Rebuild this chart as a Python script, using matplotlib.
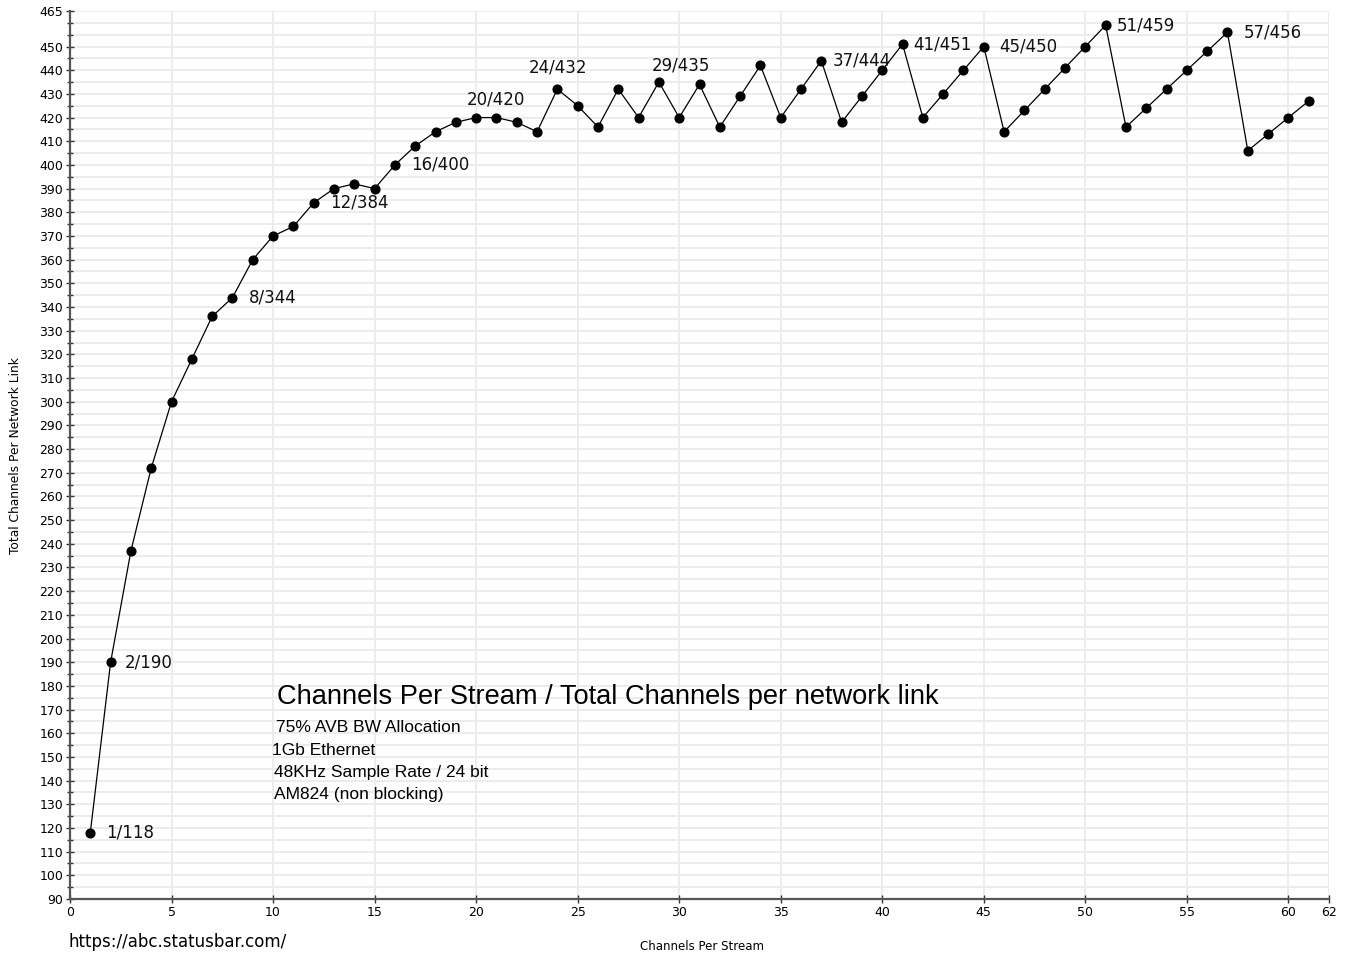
import numpy as np
import matplotlib
matplotlib.use('Agg')
import matplotlib.pyplot as plt

# ---------------------------------------------
# data: channels per stream -> total channels per link
# ---------------------------------------------
streams = list(range(1, 62))
totals = [118, 190, 237, 272, 300, 318, 336, 344, 360, 370,
          374, 384, 390, 392, 390, 400, 408, 414, 418, 420,
          420, 418, 414, 432, 425, 416, 432, 420, 435, 420,
          434, 416, 429, 442, 420, 432, 444, 418, 429, 440,
          451, 420, 430, 440, 450, 414, 423, 432, 441, 450,
          459, 416, 424, 432, 440, 448, 456, 406, 413, 420,
          427]

# labelled points and their label offsets (pixels)
label_x = [1, 2, 8, 12, 16, 20, 24, 29, 37, 41, 45, 51, 57]
label_off = [(16, 0), (14, 0), (16, 0), (16, 0), (16, 0), (-9, 18), (-29, 22),
             (-7, 17), (11, 0), (11, 0), (15, 0), (11, 0), (16, 0)]

yticks = list(range(90, 451, 10)) + [465]
xticks = [0, 5, 10, 15, 20, 25, 30, 35, 40, 45, 50, 55, 60, 62]

title = 'Channels Per Stream / Total Channels per network link'
notes = ['75% AVB BW Allocation', '1Gb Ethernet',
         '48KHz Sample Rate / 24 bit', 'AM824 (non blocking)']

# ---------------------------------------------
# plot
# ---------------------------------------------
fig = plt.figure(figsize=(13.46, 9.56), dpi=100)
ax = fig.add_axes([70/1346, 1 - 899/956, (1329-70)/1346, (899-11)/956])

ax.set_xlim(0, 62)
ax.set_ylim(90, 465)

# light grid every 5 units
for gx in list(np.arange(5, 61, 5)) + [62]:
    ax.axvline(gx, color='#ebebeb', lw=1.3, zorder=0)
for gy in np.arange(95, 466, 5):
    ax.axhline(gy, color='#ebebeb', lw=1.3, zorder=0)

ax.plot(streams, totals, color='black', lw=0.9, marker='o', ms=6.3, zorder=3)

for lx, (dx, dy) in zip(label_x, label_off):
    ly = totals[streams.index(lx)]
    ax.annotate(f'{lx}/{ly}', (lx, ly), xytext=(dx, dy), textcoords='offset pixels',
                ha='left', va='center', fontsize=12, color='#111111',
                family='DejaVu Sans')

ax.text(10.2, 175.5, title, fontsize=19.6, va='center', ha='left',
        family='Liberation Sans')
for i, n in enumerate(notes):
    ax.text(10.15 - (0.2 if i == 1 else 0.1 if i > 1 else 0), 162.3 - i * 9.4, n,
            fontsize=12.5, va='center', ha='left', family='Liberation Sans')

ax.set_yticks(yticks)
ax.set_yticks(np.arange(95, 465, 5), minor=True)
ax.set_xticks(xticks)
ax.tick_params(axis='both', which='major', direction='inout', length=6, width=1,
               labelsize=9, color='#333333')
ax.tick_params(axis='y', which='minor', direction='inout', length=5, width=1,
               color='#333333')
ax.tick_params(axis='x', pad=2)
ax.tick_params(axis='y', pad=2)

for s in ['top', 'right']:
    ax.spines[s].set_visible(False)
for s in ['left', 'bottom']:
    ax.spines[s].set_color('#555555')
    ax.spines[s].set_linewidth(1.6)

fig.text(16/1346, 1 - 456/956, 'Total Channels Per Network Link', rotation=90,
         ha='center', va='center', fontsize=8.8)
fig.text(702/1346, 1 - 947/956, 'Channels Per Stream', ha='center', va='center',
         fontsize=8.5)
fig.text(69/1346, 1 - 942/956, 'https://abc.statusbar.com/', ha='left', va='center',
         fontsize=12)

fig.savefig('out.png', dpi=100)
